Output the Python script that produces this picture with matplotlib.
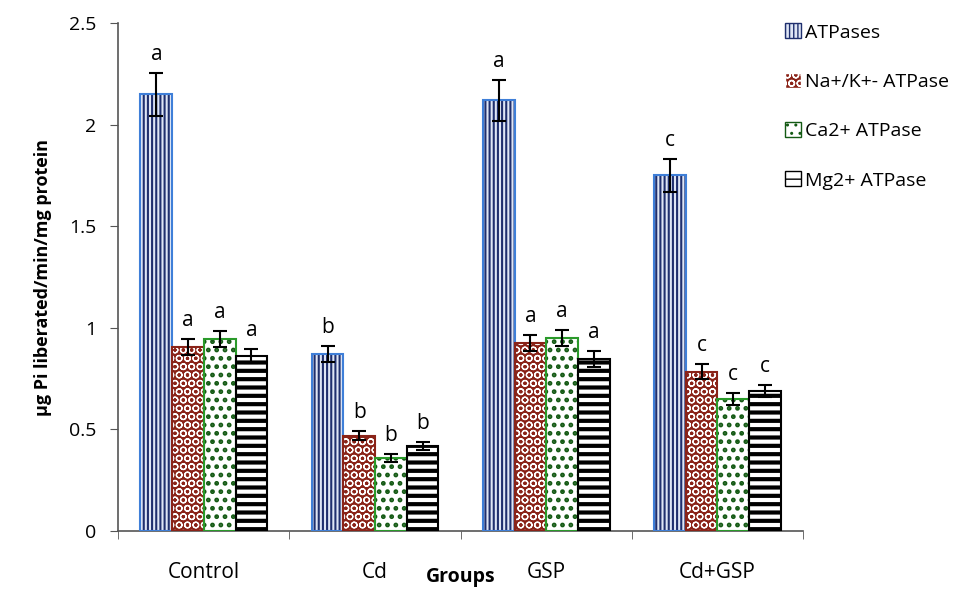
import matplotlib
matplotlib.use("Agg")
import matplotlib.pyplot as plt
import numpy as np
from matplotlib.patches import Patch

groups = ["Control", "Cd", "GSP", "Cd+GSP"]
series = ["ATPases", "Na+/K+- ATPase", "Ca2+ ATPase", "Mg2+ ATPase"]

atpases = [2.15, 0.87, 2.12, 1.75]
na_k = [0.905, 0.47, 0.925, 0.785]
ca = [0.945, 0.36, 0.95, 0.65]
mg = [0.86, 0.42, 0.845, 0.69]

atpases_err = [0.105, 0.04, 0.10, 0.08]
na_k_err = [0.04, 0.02, 0.04, 0.035]
ca_err = [0.04, 0.02, 0.04, 0.03]
mg_err = [0.035, 0.02, 0.04, 0.03]

letters = [["a", "b", "a", "c"]] * 4

plt.rcParams["font.family"] = ["Open Sans", "DejaVu Sans"]

fig = plt.figure(figsize=(9.77, 5.92), dpi=100)
ax = fig.add_axes([0.121, 0.103, 0.701, 0.858])

values = [atpases, na_k, ca, mg]
errors = [atpases_err, na_k_err, ca_err, mg_err]
# fill colour, hatch colour, outline colour, hatch, hatch line width
styles = [
    ("#dfe6f5", "#1f2f6e", "#3f7fd8", "||||", 1.5),
    ("#8a2318", "white", "#8a2318", "OO", 0.9),
    ("white", "#145a14", "#2a9a2a", "..", 2.2),
    ("white", "black", "black", "--", 3.0),
]

x = np.arange(len(groups))
w = 0.185
for i, (vals, errs, (fc, hc, ec, hatch, hlw)) in enumerate(zip(values, errors, styles)):
    pos = x + (i - 1.5) * w
    with plt.rc_context({"hatch.linewidth": hlw}):
        ax.bar(pos, vals, w, color=fc, edgecolor=hc, hatch=hatch, linewidth=0, zorder=2)
    ax.bar(pos, vals, w, fill=False, edgecolor=ec, linewidth=1.5, zorder=3)
    ax.errorbar(pos, vals, yerr=errs, fmt="none", ecolor="black", elinewidth=1.5,
                capsize=5, capthick=1.5, zorder=4)
    for p, v, e, lab in zip(pos, vals, errs, letters[i]):
        ax.text(p, v + e + 0.04, lab, ha="center", va="bottom", fontsize=15)

ax.set_xlim(-0.5, 3.5)
ax.set_ylim(0, 2.5)
ax.set_yticks([0, 0.5, 1, 1.5, 2, 2.5])
ax.set_yticklabels(["0", "0.5", "1", "1.5", "2", "2.5"])
ax.set_xticks(x)
ax.set_xticklabels(groups)
ax.set_xticks(np.arange(-0.5, 4.0, 1.0), minor=True)
ax.tick_params(axis="x", which="major", length=0, pad=22, labelsize=15)
ax.tick_params(axis="x", which="minor", length=6, direction="out", color="#555555")
ax.tick_params(axis="y", length=6, labelsize=14, color="#555555", pad=10)
for s in ["top", "right"]:
    ax.spines[s].set_visible(False)
for s in ["left", "bottom"]:
    ax.spines[s].set_color("#555555")
    ax.spines[s].set_linewidth(1.2)

ax.set_ylabel("\u00b5g Pi liberated/min/mg protein", fontsize=13, fontweight="bold", labelpad=12)
ax.set_xlabel("Groups", fontsize=14, fontweight="bold", labelpad=-11)

handles = [Patch(facecolor=fc, edgecolor=hc, hatch=h) for fc, hc, ec, h, _ in styles]
fig.legend(handles, series, loc="upper left", bbox_to_anchor=(0.786, 0.99),
           frameon=False, fontsize=14, handlelength=0.8, handleheight=0.8,
           handletextpad=0.2, labelspacing=1.6)

fig.savefig("out.png", dpi=100)
